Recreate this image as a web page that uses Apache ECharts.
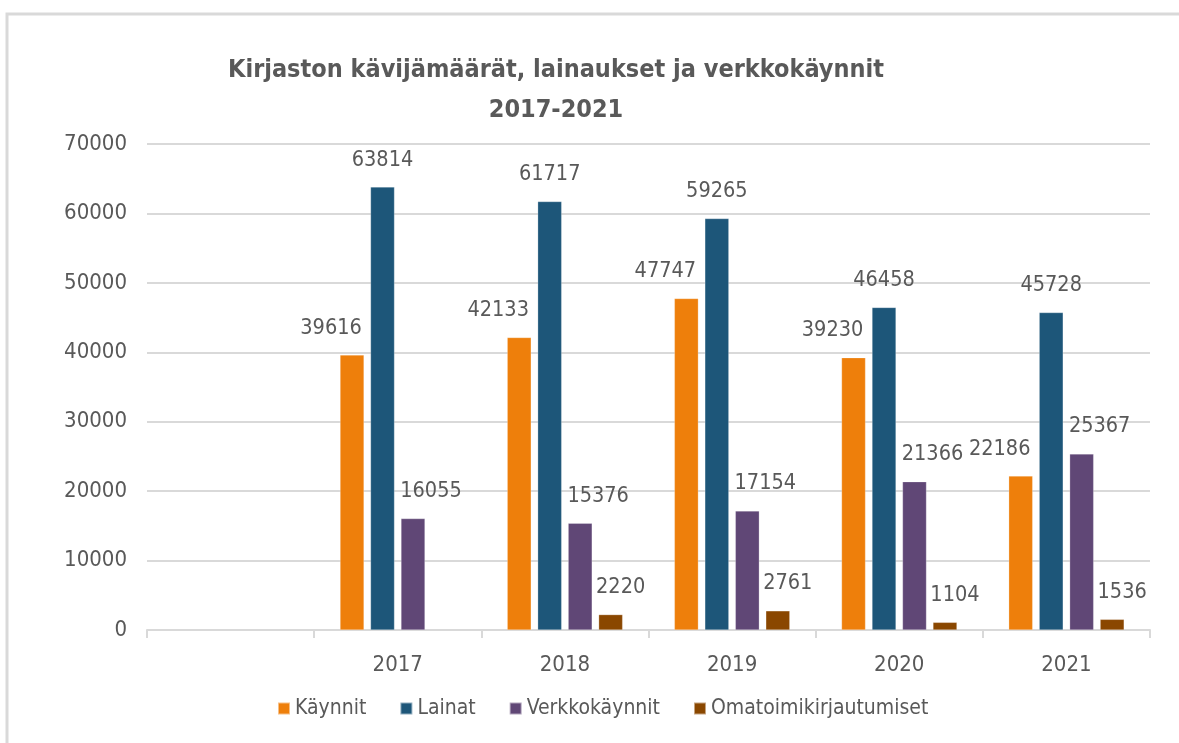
<!DOCTYPE html>
<html>
<head>
<meta charset="utf-8">
<script src="https://cdn.jsdelivr.net/npm/echarts@6/dist/echarts.min.js"></script>
<style>html,body{margin:0;padding:0;background:#fff;}#c{width:1179px;height:743px;}</style>
</head>
<body>
<div id="c"></div>
<script>
const titleText = 'Kirjaston kävijämäärät, lainaukset ja verkkokäynnit\n2017-2021';
const categories = ['', '2017', '2018', '2019', '2020', '2021'];
const seriesNames = ['Käynnit', 'Lainat', 'Verkkokäynnit', 'Omatoimikirjautumiset'];
const kaynnit = [null, 39616, 42133, 47747, 39230, 22186];
const lainat = [null, 63814, 61717, 59265, 46458, 45728];
const verkkokaynnit = [null, 16055, 15376, 17154, 21366, 25367];
const omatoimi = [null, null, 2220, 2761, 1104, 1536];
const yTicks = [0, 10000, 20000, 30000, 40000, 50000, 60000, 70000];

const FONT = "'DejaVu Sans Condensed', 'Noto Sans', sans-serif";
const TXT = '#595959';
const colors = ['#EE7F0B', '#1D5679', '#604776', '#8A4700'];
const labelOffsets = [[-21, -11], [0, -11], [18, -11], [10, -11]];
const values = [kaynnit, lainat, verkkokaynnit, omatoimi];

const chart = echarts.init(document.getElementById('c'), null, {renderer: 'canvas'});
chart.setOption({
  backgroundColor: '#fff',
  animation: false,
  textStyle: {fontFamily: FONT},
  graphic: [{
    type: 'rect', silent: true, z: -1,
    shape: {x: 7, y: 14, width: 1300, height: 900},
    style: {fill: null, stroke: '#D9D9D9', lineWidth: 3}
  }],
  title: {
    text: titleText,
    left: 551, top: 45, textAlign: 'center',
    textStyle: {fontFamily: FONT, fontWeight: 'bold', fontSize: 25, color: TXT, lineHeight: 40}
  },
  legend: {
    data: seriesNames,
    left: 272, top: 693,
    itemWidth: 12, itemHeight: 12, itemGap: 33,
    icon: 'rect',
    textStyle: {fontFamily: FONT, fontSize: 21, color: TXT}
  },
  grid: {left: 147, right: 29, top: 144, bottom: 113, containLabel: false},
  xAxis: {
    type: 'category', data: categories,
    axisLine: {lineStyle: {color: '#D9D9D9', width: 2}},
    axisTick: {show: true, length: 8, lineStyle: {color: '#D9D9D9', width: 2}},
    axisLabel: {fontFamily: FONT, fontSize: 22, color: TXT, margin: 24}
  },
  yAxis: {
    type: 'value', min: yTicks[0], max: yTicks[yTicks.length - 1], interval: yTicks[1] - yTicks[0],
    axisLine: {show: false}, axisTick: {show: false},
    splitLine: {lineStyle: {color: '#D9D9D9', width: 2}},
    axisLabel: {fontFamily: FONT, fontSize: 22, color: TXT, margin: 20, formatter: v => String(v)}
  },
  series: seriesNames.map((name, i) => ({
    name, type: 'bar', data: values[i],
    barWidth: 24, barGap: '27%',
    itemStyle: {color: colors[i], borderColor: 'rgba(255,255,255,0.5)', borderWidth: 0.5},
    label: {
      show: true, position: 'top', distance: 5,
      offset: labelOffsets[i],
      fontFamily: FONT, fontSize: 21.5, color: TXT
    }
  }))
});
</script>
</body>
</html>
